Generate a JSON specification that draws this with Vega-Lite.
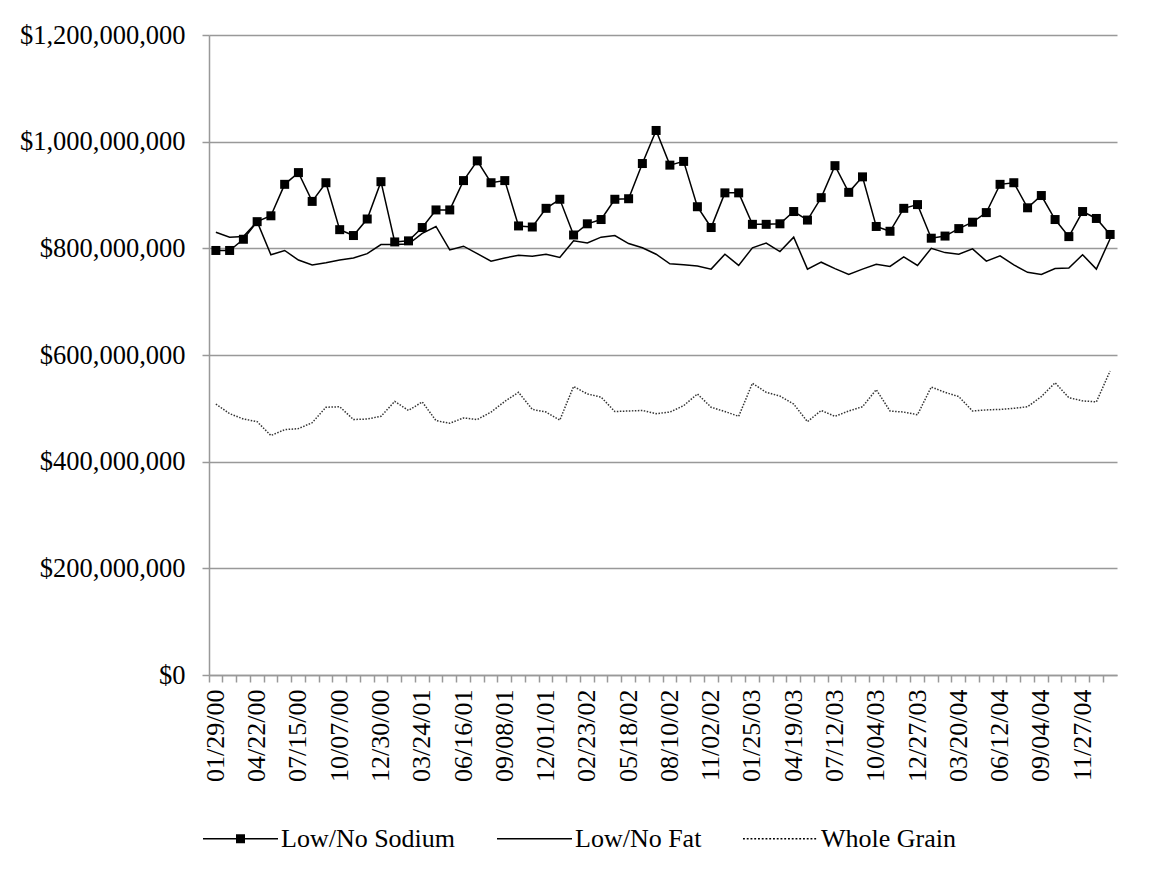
{
  "$schema": "https://vega.github.io/schema/vega-lite/v6.json",
  "width": 908,
  "height": 640,
  "autosize": {"type": "none"},
  "padding": {"left": 209, "top": 35, "right": 35, "bottom": 209},
  "background": "white",
  "config": {"view": {"stroke": null}, "font": "Liberation Serif"},
  "data": {"values": [
    {"date":"01/29/00","sodium":796000000,"fat":830000000,"grain":508000000},
    {"date":"02/26/00","sodium":796000000,"fat":821000000,"grain":490000000},
    {"date":"03/25/00","sodium":817000000,"fat":822000000,"grain":480000000},
    {"date":"04/22/00","sodium":850000000,"fat":850000000,"grain":475000000},
    {"date":"05/20/00","sodium":861000000,"fat":788000000,"grain":449000000},
    {"date":"06/17/00","sodium":920000000,"fat":796000000,"grain":460000000},
    {"date":"07/15/00","sodium":942000000,"fat":778000000,"grain":462000000},
    {"date":"08/12/00","sodium":888000000,"fat":769000000,"grain":473000000},
    {"date":"09/09/00","sodium":923000000,"fat":773000000,"grain":502000000},
    {"date":"10/07/00","sodium":835000000,"fat":778000000,"grain":503000000},
    {"date":"11/04/00","sodium":824000000,"fat":782000000,"grain":479000000},
    {"date":"12/02/00","sodium":855000000,"fat":790000000,"grain":480000000},
    {"date":"12/30/00","sodium":925000000,"fat":807000000,"grain":485000000},
    {"date":"01/27/01","sodium":812000000,"fat":807000000,"grain":513000000},
    {"date":"02/24/01","sodium":814000000,"fat":808000000,"grain":496000000},
    {"date":"03/24/01","sodium":839000000,"fat":828000000,"grain":512000000},
    {"date":"04/21/01","sodium":872000000,"fat":841000000,"grain":477000000},
    {"date":"05/19/01","sodium":872000000,"fat":797000000,"grain":472000000},
    {"date":"06/16/01","sodium":927000000,"fat":804000000,"grain":482000000},
    {"date":"07/14/01","sodium":964000000,"fat":790000000,"grain":479000000},
    {"date":"08/11/01","sodium":923000000,"fat":776000000,"grain":493000000},
    {"date":"09/08/01","sodium":927000000,"fat":782000000,"grain":513000000},
    {"date":"10/06/01","sodium":842000000,"fat":787000000,"grain":530000000},
    {"date":"11/03/01","sodium":840000000,"fat":785000000,"grain":498000000},
    {"date":"12/01/01","sodium":875000000,"fat":789000000,"grain":493000000},
    {"date":"12/29/01","sodium":892000000,"fat":783000000,"grain":478000000},
    {"date":"01/26/02","sodium":825000000,"fat":814000000,"grain":541000000},
    {"date":"02/23/02","sodium":846000000,"fat":810000000,"grain":527000000},
    {"date":"03/23/02","sodium":854000000,"fat":821000000,"grain":521000000},
    {"date":"04/20/02","sodium":892000000,"fat":824000000,"grain":494000000},
    {"date":"05/18/02","sodium":893000000,"fat":809000000,"grain":495000000},
    {"date":"06/15/02","sodium":959000000,"fat":801000000,"grain":496000000},
    {"date":"07/13/02","sodium":1021000000,"fat":789000000,"grain":490000000},
    {"date":"08/10/02","sodium":956000000,"fat":771000000,"grain":493000000},
    {"date":"09/07/02","sodium":963000000,"fat":769000000,"grain":505000000},
    {"date":"10/05/02","sodium":878000000,"fat":767000000,"grain":527000000},
    {"date":"11/02/02","sodium":839000000,"fat":761000000,"grain":502000000},
    {"date":"11/30/02","sodium":904000000,"fat":789000000,"grain":494000000},
    {"date":"12/28/02","sodium":904000000,"fat":768000000,"grain":485000000},
    {"date":"01/25/03","sodium":845000000,"fat":801000000,"grain":547000000},
    {"date":"02/22/03","sodium":845000000,"fat":810000000,"grain":530000000},
    {"date":"03/22/03","sodium":846000000,"fat":794000000,"grain":523000000},
    {"date":"04/19/03","sodium":869000000,"fat":821000000,"grain":508000000},
    {"date":"05/17/03","sodium":853000000,"fat":761000000,"grain":475000000},
    {"date":"06/14/03","sodium":895000000,"fat":774000000,"grain":496000000},
    {"date":"07/12/03","sodium":955000000,"fat":762000000,"grain":485000000},
    {"date":"08/09/03","sodium":905000000,"fat":751000000,"grain":495000000},
    {"date":"09/06/03","sodium":934000000,"fat":761000000,"grain":503000000},
    {"date":"10/04/03","sodium":841000000,"fat":770000000,"grain":535000000},
    {"date":"11/01/03","sodium":832000000,"fat":766000000,"grain":495000000},
    {"date":"11/29/03","sodium":875000000,"fat":784000000,"grain":493000000},
    {"date":"12/27/03","sodium":882000000,"fat":768000000,"grain":488000000},
    {"date":"01/24/04","sodium":819000000,"fat":800000000,"grain":540000000},
    {"date":"02/21/04","sodium":823000000,"fat":792000000,"grain":530000000},
    {"date":"03/20/04","sodium":837000000,"fat":789000000,"grain":522000000},
    {"date":"04/17/04","sodium":849000000,"fat":799000000,"grain":495000000},
    {"date":"05/15/04","sodium":867000000,"fat":776000000,"grain":497000000},
    {"date":"06/12/04","sodium":920000000,"fat":786000000,"grain":498000000},
    {"date":"07/10/04","sodium":923000000,"fat":769000000,"grain":500000000},
    {"date":"08/07/04","sodium":876000000,"fat":755000000,"grain":503000000},
    {"date":"09/04/04","sodium":899000000,"fat":751000000,"grain":522000000},
    {"date":"10/02/04","sodium":854000000,"fat":762000000,"grain":548000000},
    {"date":"10/30/04","sodium":822000000,"fat":763000000,"grain":520000000},
    {"date":"11/27/04","sodium":869000000,"fat":788000000,"grain":514000000},
    {"date":"12/25/04","sodium":856000000,"fat":761000000,"grain":512000000},
    {"date":"01/22/05","sodium":826000000,"fat":818000000,"grain":570000000}
  ]},
  "transform": [{"fold": ["sodium", "fat", "grain"], "as": ["series", "value"]}],
  "encoding": {
    "y": {
      "field": "value",
      "type": "quantitative",
      "scale": {"domain": [0, 1200000000]},
      "axis": {
        "values": [0, 200000000, 400000000, 600000000, 800000000, 1000000000, 1200000000],
        "format": "$,.0f",
        "grid": true,
        "gridColor": "#999999",
        "gridWidth": 1.5,
        "domainColor": "#999999",
        "domainWidth": 1.5,
        "tickColor": "#999999",
        "tickWidth": 1.5,
        "tickSize": 7,
        "labelPadding": 17,
        "labelFont": "Liberation Serif",
        "labelFontSize": 26.5,
        "labelColor": "black",
        "title": null
      }
    }
  },
  "layer": [
    {
      "transform": [{"filter": "datum.series != 'grain'"}],
      "mark": {"type": "line", "color": "black", "strokeWidth": 1.5},
      "encoding": {
        "x": {
          "field": "date", "type": "ordinal", "sort": null, "bandPosition": 0.5,
          "scale": {"type": "band", "paddingInner": 0, "paddingOuter": 0},
          "axis": {
            "orient": "bottom",
            "values": ["01/29/00","04/22/00","07/15/00","10/07/00","12/30/00","03/24/01","06/16/01","09/08/01","12/01/01","02/23/02","05/18/02","08/10/02","11/02/02","01/25/03","04/19/03","07/12/03","10/04/03","12/27/03","03/20/04","06/12/04","09/04/04","11/27/04"],
            "labelAngle": -90,
            "labelOverlap": false,
            "ticks": false,
            "grid": false,
            "domainColor": "#999999",
            "domainWidth": 1.5,
            "labelPadding": 14,
            "labelFont": "Liberation Serif",
            "labelFontSize": 26,
            "labelColor": "black",
            "title": null
          }
        },
        "detail": {"field": "series"}
      }
    },
    {
      "transform": [{"filter": "datum.series == 'grain'"}],
      "mark": {"type": "line", "color": "#333333", "strokeWidth": 1.5, "strokeDash": [1.5, 1.5]},
      "encoding": {
        "x": {
          "field": "date", "type": "ordinal", "sort": null, "bandPosition": 0.5,
          "axis": {
            "orient": "bottom",
            "bandPosition": 0,
            "labels": false,
            "domain": false,
            "grid": false,
            "ticks": true,
            "tickSize": 7,
            "tickColor": "#999999",
            "tickWidth": 1.5,
            "title": null
          }
        }
      }
    },
    {
      "transform": [{"filter": "datum.series == 'sodium'"}],
      "mark": {"type": "point", "shape": "square", "filled": true, "size": 81, "color": "black", "opacity": 1},
      "encoding": {
        "x": {"field": "date", "type": "ordinal", "sort": null, "bandPosition": 0.5, "axis": null}
      }
    },
    {
      "mark": {"type": "point", "filled": true, "size": 0, "opacity": 1, "fill": "black"},
      "encoding": {
        "x": {"field": "date", "type": "ordinal", "sort": null, "bandPosition": 0.5, "axis": null},
        "shape": {
          "field": "series", "type": "nominal",
          "scale": {"domain": ["sodium", "fat", "grain"], "range": [
            "M-1,-0.02H1V0.02H-1ZM-0.12,-0.12H0.12V0.12H-0.12Z",
            "M-1,-0.02H1V0.02H-1Z",
            "M-1,-0.02H-0.95V0.02H-1ZM-0.9,-0.02H-0.85V0.02H-0.9ZM-0.8,-0.02H-0.75V0.02H-0.8ZM-0.7,-0.02H-0.65V0.02H-0.7ZM-0.6,-0.02H-0.55V0.02H-0.6ZM-0.5,-0.02H-0.45V0.02H-0.5ZM-0.4,-0.02H-0.35V0.02H-0.4ZM-0.3,-0.02H-0.25V0.02H-0.3ZM-0.2,-0.02H-0.15V0.02H-0.2ZM-0.1,-0.02H-0.05V0.02H-0.1ZM0,-0.02H0.05V0.02H0ZM0.1,-0.02H0.15V0.02H0.1ZM0.2,-0.02H0.25V0.02H0.2ZM0.3,-0.02H0.35V0.02H0.3ZM0.4,-0.02H0.45V0.02H0.4ZM0.5,-0.02H0.55V0.02H0.5ZM0.6,-0.02H0.65V0.02H0.6ZM0.7,-0.02H0.75V0.02H0.7ZM0.8,-0.02H0.85V0.02H0.8ZM0.9,-0.02H0.95V0.02H0.9Z"
          ]},
          "legend": {
            "orient": "none", "legendX": -6, "legendY": 766, "direction": "horizontal", "title": null,
            "symbolSize": 5625, "symbolStrokeWidth": 0, "symbolFillColor": "black", "symbolOpacity": 1,
            "labelFont": "Liberation Serif", "labelFontSize": 26, "labelColor": "black", "labelOffset": 3, "labelLimit": 0, "columnPadding": 41, "padding": 0,
            "labelExpr": "datum.label == 'sodium' ? 'Low/No Sodium' : datum.label == 'fat' ? 'Low/No Fat' : 'Whole Grain'"
          }
        }
      }
    }
  ],
  "resolve": {"axis": {"x": "independent"}}
}
